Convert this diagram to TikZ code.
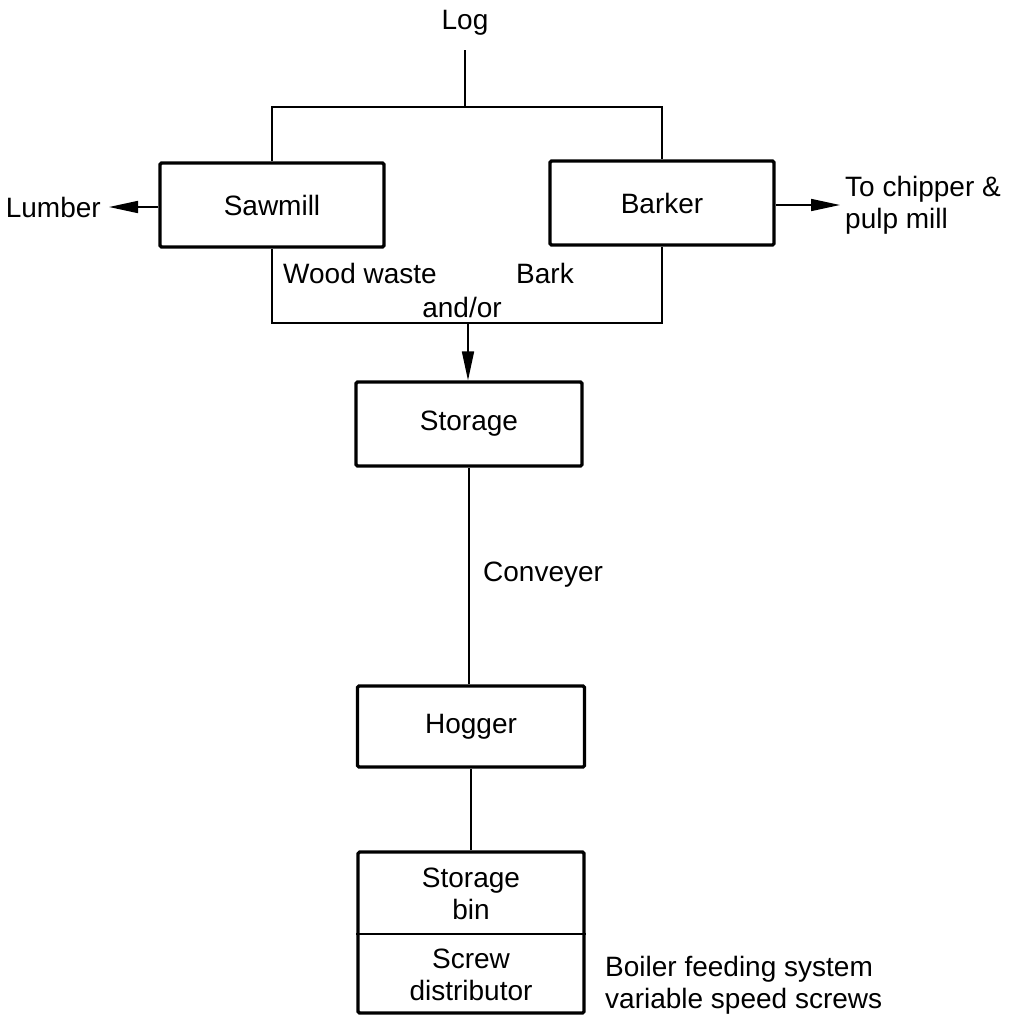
\documentclass[tikz,border=0pt]{standalone}
\usepackage{fontspec}
\setmainfont{Liberation Sans}
\usetikzlibrary{arrows.meta}
\begin{document}
\begin{tikzpicture}[x=1bp,y=-1bp,
  every node/.style={font=\fontsize{28bp}{32bp}\selectfont, inner sep=0pt},
  unit/.style={draw, line width=3.2bp, rounded corners=1.5bp, minimum width=224bp, minimum height=84bp, align=center},
  flow/.style={line width=1.7bp},
  tip/.style={flow, -{Triangle[length=29bp,width=12bp]}},
  lbl/.style={align=left}]
\useasboundingbox (0,0) rectangle (1010,1016);

% process units
\node[unit] (sawmill) at (272,205) {Sawmill};
\node[unit] (barker) at (662,203) {Barker};
\node[unit, minimum width=226bp] (storage) at (469,424) {Storage};
\node[unit, minimum width=227bp, minimum height=81bp] (hogger) at (471,726.5) {Hogger};

% storage bin over screw distributor, one box with a divider
\node[unit, minimum width=226bp, minimum height=161bp] (binbox) at (471,932.5) {};
\coordinate (divy) at (471,934);
\draw[line width=2.4bp] (binbox.west |- divy) -- (binbox.east |- divy);
\node[align=center] (bintext) at (471,894) {Storage\\bin};
\node[align=center] (screwtext) at (471,974.5) {Screw\\distributor};

% text labels
\node (log) at (465,23) {Log};
\node[anchor=east] (lumber) at (101,207) {Lumber};
\node[lbl, anchor=west] (chipper) at (845,205) {To chipper \&\\pulp mill};
\node[anchor=west] (wood) at (283,273) {Wood waste};
\node[anchor=west] (bark) at (516,273) {Bark};
\node (andor) at (462,307) {and/or};
\node[anchor=west] (conv) at (483,575) {Conveyer};
\node[lbl, anchor=west] (boiler) at (605,985) {Boiler feeding system\\variable speed screws};

% junction points
\coordinate (logend) at (465,50);
\coordinate (split) at (465,107);
\coordinate (merge) at (468,323);
\coordinate (lumtip) at (109,207);
\coordinate (chiptip) at (840,205);

% log splits to sawmill and barker
\draw[flow] (logend) -- (split);
\draw[flow] (sawmill.north) |- (split) -| (barker.north);

% waste streams merge and go to storage
\draw[flow] (sawmill.south) |- (merge) -| (barker.south);
\draw[tip] (merge) -- (merge |- storage.north);

% products
\draw[tip] (sawmill.west |- lumtip) -- (lumtip);
\draw[tip] (barker.east |- chiptip) -- (chiptip);

% conveyor line
\draw[flow] (storage.south) -- (storage.south |- hogger.north);
\draw[flow] (hogger.south) -- (hogger.south |- binbox.north);
\end{tikzpicture}
\end{document}
